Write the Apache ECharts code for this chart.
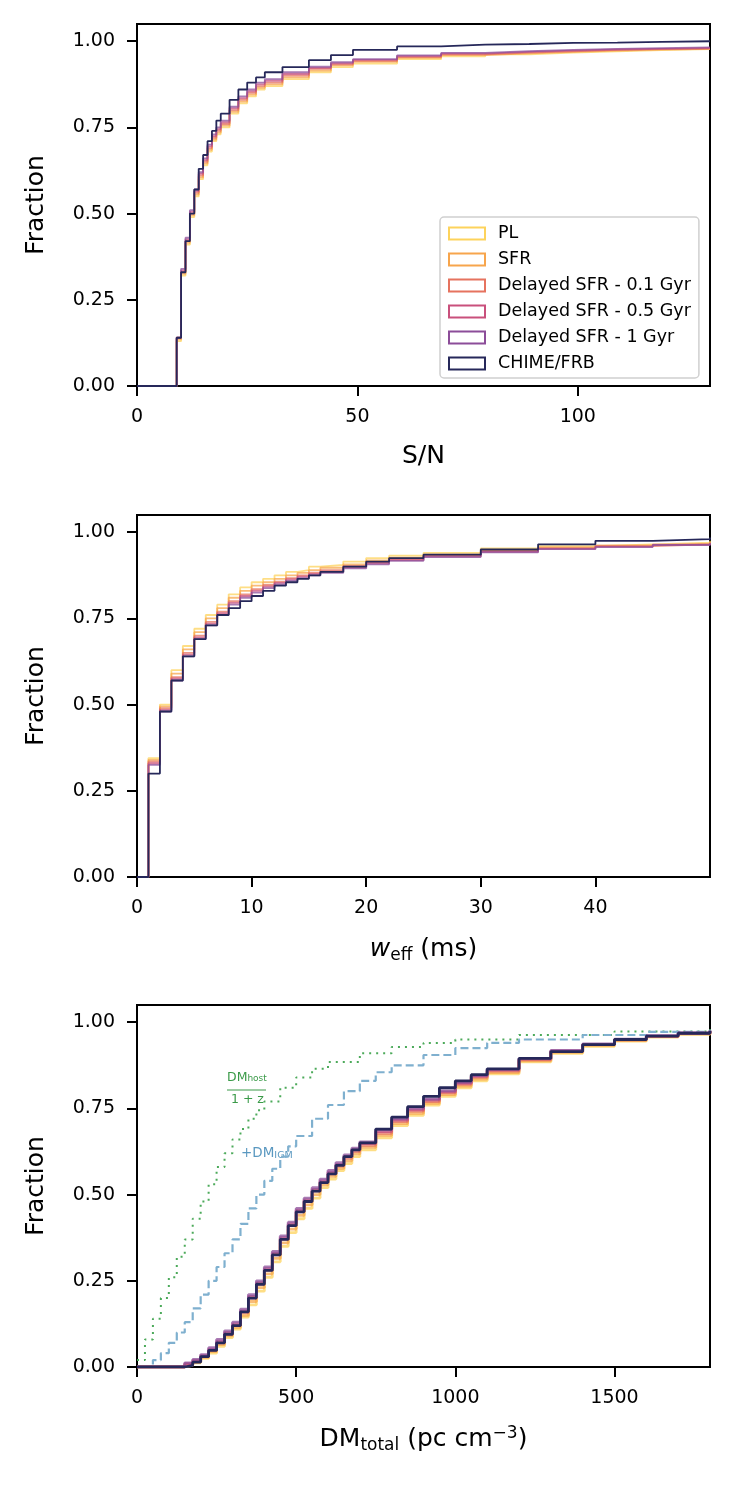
<!DOCTYPE html>
<html><head><meta charset="utf-8">
<script src="https://cdn.jsdelivr.net/npm/echarts@6/dist/echarts.min.js"></script>
<style>html,body{margin:0;padding:0;background:#fff}#c{width:748px;height:1486px}</style>
</head><body><div id="c"></div>
<script>
const names = ['PL','SFR','Delayed SFR - 0.1 Gyr','Delayed SFR - 0.5 Gyr','Delayed SFR - 1 Gyr','CHIME/FRB'];
const colors = ['#fdd35c','#f7a54c','#e6735f','#c9507c','#8c4d99','#26285a'];

// Panel 1: S/N cumulative (value holds from x onward)
const snX     = [0,8,9,10,11,12,13,14,15,16,17,18,19,21,23,25,27,29,33,39,44,49,59,69,79,89,99,109,119,130];
const snPL    = [0,0,0.13,0.32,0.41,0.49,0.55,0.60,0.64,0.68,0.71,0.73,0.75,0.79,0.82,0.84,0.86,0.87,0.89,0.91,0.925,0.935,0.948,0.956,0.962,0.967,0.971,0.974,0.977,0.979];
const snSFR   = [0,0,0.135,0.325,0.415,0.495,0.555,0.605,0.645,0.685,0.715,0.735,0.755,0.795,0.825,0.845,0.865,0.875,0.895,0.915,0.93,0.94,0.952,0.96,0.965,0.969,0.973,0.976,0.978,0.98];
const snD01   = [0,0,0.14,0.33,0.42,0.50,0.56,0.61,0.65,0.69,0.72,0.74,0.76,0.80,0.83,0.85,0.87,0.88,0.90,0.92,0.933,0.943,0.954,0.962,0.967,0.971,0.975,0.977,0.979,0.981];
const snD05   = [0,0,0.14,0.335,0.425,0.505,0.565,0.615,0.655,0.695,0.725,0.745,0.765,0.805,0.835,0.855,0.875,0.885,0.905,0.923,0.936,0.946,0.957,0.964,0.969,0.973,0.976,0.978,0.98,0.982];
const snD1    = [0,0,0.14,0.34,0.43,0.51,0.57,0.62,0.66,0.70,0.73,0.75,0.77,0.81,0.84,0.86,0.88,0.89,0.91,0.926,0.939,0.948,0.959,0.966,0.971,0.975,0.978,0.98,0.982,0.983];
const snCH    = [0,0,0.14,0.33,0.42,0.50,0.57,0.63,0.67,0.71,0.74,0.77,0.79,0.83,0.86,0.88,0.895,0.91,0.925,0.945,0.96,0.975,0.985,0.99,0.992,0.995,0.996,0.998,1.0,1.0];

// Panel 2: w_eff cumulative
const wX   = [0,1,2,3,4,5,6,7,8,9,10,11,12,13,14,15,16,18,20,22,25,30,35,40,45,50];
const wPL  = [0,0.345,0.50,0.60,0.67,0.72,0.76,0.79,0.82,0.84,0.855,0.865,0.875,0.885,0.89,0.90,0.905,0.915,0.925,0.932,0.94,0.953,0.96,0.965,0.97,0.975];
const wSFR = [0,0.34,0.495,0.59,0.66,0.71,0.75,0.78,0.81,0.83,0.845,0.855,0.865,0.875,0.882,0.89,0.897,0.907,0.918,0.926,0.935,0.948,0.956,0.962,0.967,0.972];
const wD01 = [0,0.335,0.49,0.58,0.65,0.70,0.74,0.77,0.80,0.82,0.835,0.847,0.857,0.867,0.875,0.883,0.89,0.902,0.913,0.922,0.932,0.945,0.954,0.96,0.965,0.97];
const wD05 = [0,0.33,0.485,0.575,0.645,0.695,0.735,0.765,0.795,0.815,0.83,0.842,0.853,0.863,0.871,0.879,0.886,0.898,0.91,0.919,0.93,0.943,0.952,0.958,0.964,0.969];
const wD1  = [0,0.325,0.48,0.57,0.64,0.69,0.73,0.76,0.79,0.81,0.825,0.838,0.849,0.859,0.867,0.875,0.882,0.895,0.907,0.917,0.928,0.942,0.951,0.957,0.963,0.968];
const wCH  = [0,0.30,0.48,0.57,0.64,0.69,0.73,0.76,0.78,0.80,0.815,0.83,0.845,0.855,0.865,0.875,0.885,0.90,0.915,0.925,0.935,0.95,0.965,0.975,0.98,0.985];

// Panel 3: DM_total cumulative
const dmX   = [0,100,150,175,200,225,250,275,300,325,350,375,400,425,450,475,500,525,550,575,600,625,650,675,700,750,800,850,900,950,1000,1050,1100,1200,1300,1400,1500,1600,1700,1800];
const dmPL  = [0,0,0.005,0.012,0.025,0.04,0.06,0.085,0.11,0.145,0.18,0.22,0.26,0.305,0.35,0.39,0.43,0.46,0.49,0.52,0.545,0.57,0.59,0.61,0.63,0.665,0.70,0.73,0.76,0.785,0.81,0.83,0.85,0.885,0.91,0.93,0.945,0.957,0.965,0.972];
const dmSFR = [0,0,0.006,0.014,0.028,0.045,0.065,0.09,0.115,0.15,0.19,0.23,0.27,0.315,0.36,0.4,0.44,0.47,0.50,0.528,0.553,0.576,0.598,0.618,0.637,0.672,0.706,0.736,0.765,0.79,0.815,0.835,0.854,0.888,0.913,0.933,0.947,0.958,0.966,0.973];
const dmD01 = [0,0,0.008,0.016,0.03,0.048,0.07,0.095,0.12,0.158,0.2,0.24,0.28,0.325,0.37,0.41,0.45,0.48,0.51,0.536,0.56,0.583,0.605,0.625,0.643,0.678,0.712,0.742,0.77,0.795,0.82,0.84,0.858,0.891,0.915,0.935,0.949,0.959,0.967,0.974];
const dmD05 = [0,0,0.01,0.019,0.033,0.052,0.075,0.1,0.125,0.163,0.205,0.245,0.285,0.33,0.375,0.415,0.455,0.485,0.515,0.54,0.565,0.588,0.61,0.63,0.648,0.683,0.716,0.746,0.774,0.798,0.823,0.843,0.861,0.893,0.917,0.936,0.95,0.96,0.968,0.975];
const dmD1  = [0,0,0.012,0.022,0.036,0.056,0.08,0.105,0.13,0.168,0.21,0.25,0.29,0.335,0.38,0.42,0.46,0.49,0.52,0.545,0.57,0.593,0.615,0.635,0.653,0.688,0.72,0.75,0.777,0.801,0.826,0.845,0.863,0.895,0.918,0.937,0.951,0.961,0.969,0.975];
const dmCH  = [0,0,0.005,0.014,0.03,0.048,0.07,0.095,0.12,0.16,0.2,0.24,0.28,0.325,0.37,0.41,0.45,0.48,0.51,0.535,0.56,0.585,0.61,0.63,0.65,0.69,0.725,0.755,0.785,0.81,0.83,0.848,0.865,0.895,0.915,0.935,0.95,0.96,0.968,0.975];
const hostX = [0,25,50,75,100,125,150,175,200,225,250,275,300,325,350,375,400,450,500,550,600,700,800,900,1000,1200,1500,1800];
const hostY = [0.02,0.08,0.14,0.2,0.26,0.32,0.37,0.43,0.48,0.53,0.58,0.62,0.66,0.69,0.72,0.745,0.77,0.81,0.84,0.865,0.885,0.91,0.928,0.94,0.95,0.963,0.973,0.98];
const igmX  = [20,50,75,100,125,150,175,200,225,250,275,300,325,350,375,400,425,450,475,500,550,600,650,700,750,800,900,1000,1100,1200,1400,1600,1800];
const igmY  = [0.0,0.02,0.04,0.07,0.1,0.13,0.17,0.21,0.25,0.29,0.33,0.37,0.415,0.46,0.5,0.54,0.575,0.61,0.64,0.67,0.72,0.76,0.80,0.83,0.855,0.875,0.905,0.925,0.94,0.95,0.963,0.972,0.978];

const pairs = (xs, ys) => xs.map((x,i)=>[x,ys[i]]);
const font = 'DejaVu Sans';
const TF = 19, NF = 25;
const grids = [{top:24},{top:515},{top:1005}].map(g=>({left:137,width:573,top:g.top,height:362,show:true,borderColor:'#000',borderWidth:2}));
const yAx = i => ({gridIndex:i,type:'value',min:0,max:1.05,interval:0.25,
  axisLine:{show:true,lineStyle:{color:'#000',width:2}},axisTick:{show:true,length:10,lineStyle:{color:'#000',width:2}},
  axisLabel:{color:'#000',fontSize:TF,fontFamily:font,margin:22,showMaxLabel:false,formatter:v=>v>1.01?'':v.toFixed(2)},splitLine:{show:false},
  name:'Fraction',nameLocation:'middle',nameGap:88,nameTextStyle:{color:'#000',fontSize:NF,fontFamily:font}});
const xBase = (i,max,interval,name,rich) => ({gridIndex:i,type:'value',min:0,max,interval,
  axisLine:{show:true,onZero:false,lineStyle:{color:'#000',width:2}},axisTick:{show:true,length:10,lineStyle:{color:'#000',width:2}},
  axisLabel:{color:'#000',fontSize:TF,fontFamily:font,margin:22,showMaxLabel:false,formatter:v=>String(v)},splitLine:{show:false},
  name,nameLocation:'middle',nameGap:58,nameTextStyle:{color:'#000',fontSize:NF,fontFamily:font,rich}});
const richSub = {n:{fontSize:NF,fontFamily:font,color:'#000'},i:{fontSize:NF,fontStyle:'italic',fontFamily:font,color:'#000'},
  s:{fontSize:17,fontFamily:font,color:'#000',padding:[12,0,0,0]},p:{fontSize:17,fontFamily:font,color:'#000',padding:[0,0,12,0]}};

const series = [];
const sets = [[snX,[snPL,snSFR,snD01,snD05,snD1,snCH]],[wX,[wPL,wSFR,wD01,wD05,wD1,wCH]],[dmX,[dmPL,dmSFR,dmD01,dmD05,dmD1,dmCH]]];
sets.forEach(([xs,ys],g)=>{
  ys.forEach((y,k)=>series.push({name:names[k],type:'line',step:'end',xAxisIndex:g,yAxisIndex:g,symbol:'none',
    data:pairs(xs,y),lineStyle:{color:colors[k],width:g===2?2.8:1.8,opacity:k===5?1:0.75},itemStyle:{color:colors[k]},z:k===5?5:3,silent:true}));
});
series.push({name:'host',type:'line',step:'end',xAxisIndex:2,yAxisIndex:2,symbol:'none',data:pairs(hostX,hostY),
  lineStyle:{color:'#4caa5a',width:2,type:[2,5]},z:2});
series.push({name:'igm',type:'line',step:'end',xAxisIndex:2,yAxisIndex:2,symbol:'none',data:pairs(igmX,igmY),
  lineStyle:{color:'#7fb0cf',width:2.2,type:[8,4]},z:2});

const chart = echarts.init(document.getElementById('c'),null,{renderer:'canvas'});
chart.setOption({
  animation:false,
  grid:grids,
  xAxis:[xBase(0,130,50,'S/N',richSub),xBase(1,50,10,'{i|w}{s|eff}{n| (ms)}',richSub),xBase(2,1800,500,'{n|DM}{s|total}{n| (pc cm}{p|−3}{n|)}',richSub)],
  yAxis:[yAx(0),yAx(1),yAx(2)],
  legend:{data:names.map((n,k)=>({name:n,icon:'rect',itemStyle:{color:'#fff',borderColor:colors[k],borderWidth:2}})),
    orient:'vertical',left:440,top:217,itemWidth:36,itemHeight:12,itemGap:5,padding:[6,8,4,8],
    backgroundColor:'#fff',borderColor:'#d0d0d0',borderWidth:1.5,borderRadius:4,
    textStyle:{fontSize:17.5,lineHeight:21,fontFamily:font,color:'#000',padding:[0,0,0,8]},selectedMode:false},
  graphic:[
    {type:'text',left:227,top:1071,style:{text:'{a|DM}{b|host}',rich:{a:{fontSize:12.5,fill:'#3a9a48',fontFamily:font},b:{fontSize:9,fill:'#3a9a48',fontFamily:font,padding:[3,0,0,0]}}}},
    {type:'line',shape:{x1:227,y1:1090,x2:266,y2:1090},style:{stroke:'#3a9a48',lineWidth:1}},
    {type:'text',left:231,top:1093,style:{text:'1 + z',fontSize:12.5,fill:'#3a9a48',fontFamily:font}},
    {type:'text',left:241,top:1146,style:{text:'{a|+DM}{b|IGM}',rich:{a:{fontSize:13.5,fill:'#5a98c0',fontFamily:font},b:{fontSize:9.5,fill:'#5a98c0',fontFamily:font,padding:[5,0,0,0]}}}}
  ],
  series
});
</script></body></html>
